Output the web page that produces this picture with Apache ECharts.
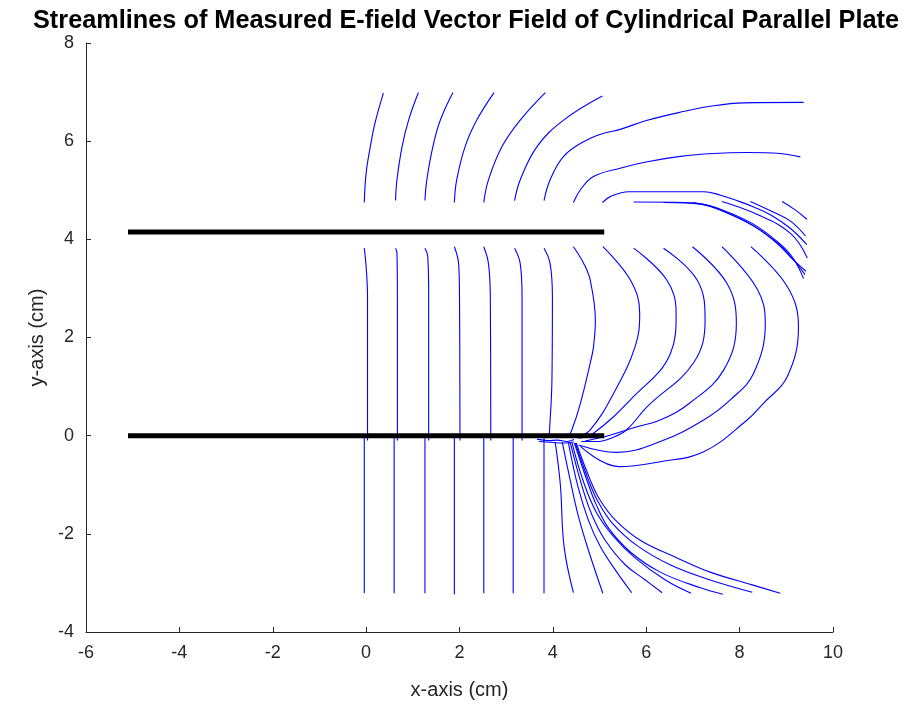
<!DOCTYPE html>
<html>
<head>
<meta charset="utf-8">
<script src="https://cdn.jsdelivr.net/npm/echarts@6/dist/echarts.min.js"></script>
<style>
  html, body { margin: 0; padding: 0; background: #ffffff; }
  #chart { width: 902px; height: 709px; }
</style>
</head>
<body>
<div id="chart"></div>
<script>
// Axis ticks
const xTicks = [-6, -4, -2, 0, 2, 4, 6, 8, 10];
const yTicks = [-4, -2, 0, 2, 4, 6, 8];

// The two plates (x, y in cm)
const topPlate = [[-5.1, 4.15], [5.1, 4.15]];
const bottomPlate = [[-5.1, 0], [5.1, 0]];

// Streamlines above the upper plate
const linesAbove = [
  [[-0.04, 4.75], [0, 5.35], [0.09, 5.89], [0.19, 6.37], [0.37, 6.98]],
  [[0.63, 4.79], [0.66, 5.21], [0.77, 5.89], [0.91, 6.43], [1.12, 6.99]],
  [[1.26, 4.79], [1.30, 5.21], [1.43, 5.89], [1.59, 6.43], [1.86, 6.99]],
  [[1.89, 4.75], [1.94, 5.21], [2.12, 5.89], [2.37, 6.43], [2.74, 6.99]],
  [[2.52, 4.75], [2.62, 5.21], [2.91, 5.89], [3.30, 6.43], [3.84, 6.99]],
  [[3.18, 4.79], [3.30, 5.21], [3.66, 5.89], [4.23, 6.43], [5.06, 6.92]],
  [[3.81, 4.79], [3.94, 5.21], [4.23, 5.69], [4.66, 5.99], [5.09, 6.16], [5.44, 6.24], [6.0, 6.42], [6.73, 6.59], [7.44, 6.72], [8.09, 6.78], [9.37, 6.79]],
  [[4.44, 4.75], [4.59, 5.01], [4.87, 5.28], [5.44, 5.45], [6.02, 5.58], [6.73, 5.69], [7.44, 5.75], [8.16, 5.77], [8.87, 5.75], [9.30, 5.68]],
  [[5.06, 4.75], [5.23, 4.87], [5.62, 4.97], [7.23, 4.97], [7.59, 4.90], [7.94, 4.79], [8.30, 4.66], [8.66, 4.50], [9.09, 4.22], [9.44, 3.89]],
  [[5.73, 4.76], [6.84, 4.75], [7.19, 4.72], [7.55, 4.63], [8.26, 4.33], [8.76, 3.99], [9.12, 3.65], [9.37, 3.20]],
  [[6.37, 4.75], [6.84, 4.74], [7.19, 4.71], [7.55, 4.61], [8.26, 4.30], [8.76, 3.96], [9.12, 3.62], [9.40, 3.28]],
  [[7.00, 4.75], [7.30, 4.70], [7.60, 4.60], [8.30, 4.27], [8.80, 3.92], [9.15, 3.58], [9.42, 3.35]],
  [[7.62, 4.77], [8.37, 4.51], [9.09, 4.12], [9.45, 3.62]],
  [[8.23, 4.77], [8.73, 4.55], [9.09, 4.37], [9.41, 4.07]],
  [[8.91, 4.77], [9.19, 4.60], [9.44, 4.41]]
];

// Streamlines between the plates
const linesBetween = [
  [[-0.04, 3.82], [0, 3.44], [0.03, 2.83], [0.03, -0.10]],
  [[0.63, 3.82], [0.66, 3.72], [0.67, 2.83], [0.67, -0.10]],
  [[1.26, 3.82], [1.32, 3.65], [1.34, 2.83], [1.34, -0.10]],
  [[1.89, 3.85], [1.98, 3.51], [2.00, 2.83], [2.01, -0.10]],
  [[2.52, 3.85], [2.62, 3.51], [2.66, 2.83], [2.67, -0.10]],
  [[3.18, 3.82], [3.30, 3.51], [3.34, 2.83], [3.34, -0.10]],
  [[3.81, 3.82], [3.94, 3.51], [3.99, 2.83], [3.98, 1.14], [3.93, 0.12], [3.92, 0.0]],
  [[4.44, 3.85], [4.66, 3.51], [4.80, 3.17], [4.91, 2.35], [4.87, 1.81], [4.80, 1.48], [4.59, 0.66], [4.40, 0.10], [4.33, 0.0]],
  [[5.07, 3.85], [5.66, 3.17], [5.86, 2.49], [5.76, 1.81], [5.30, 0.86], [4.80, 0.12], [4.50, -0.03]],
  [[5.73, 3.82], [6.44, 3.17], [6.64, 2.49], [6.52, 1.68], [5.66, 0.73], [4.87, 0.05], [4.55, -0.05]],
  [[6.37, 3.82], [7.09, 3.17], [7.26, 2.35], [7.01, 1.48], [6.02, 0.59], [5.58, 0.12], [5.30, -0.03], [4.94, -0.12], [4.61, -0.12]],
  [[6.99, 3.85], [7.73, 3.10], [7.93, 2.29], [7.66, 1.34], [6.94, 0.67], [6.30, 0.32], [5.80, 0.18], [5.22, 0.01], [4.69, -0.11]],
  [[7.62, 3.85], [8.37, 3.00], [8.55, 2.29], [8.30, 1.27], [7.80, 0.73], [7.23, 0.32], [6.30, -0.12], [5.37, -0.34], [4.55, -0.19]],
  [[8.24, 3.85], [9.02, 3.04], [9.26, 2.22], [9.02, 1.20], [8.51, 0.66], [8.16, 0.32], [7.23, -0.33], [6.30, -0.53], [5.41, -0.63], [4.59, -0.22]]
];

// Streamlines below the lower plate
const linesBelow = [
  [[-0.04, -0.05], [-0.04, -3.21]],
  [[0.60, -0.05], [0.60, -3.21]],
  [[1.26, -0.05], [1.26, -3.21]],
  [[1.89, -0.05], [1.89, -3.23]],
  [[2.52, -0.05], [2.52, -3.21]],
  [[3.15, -0.05], [3.15, -3.21]],
  [[3.81, -0.05], [3.81, -3.21]],
  [[4.05, -0.13], [4.16, -1.00], [4.24, -2.26], [4.44, -3.20]],
  [[4.20, -0.13], [4.37, -0.90], [4.54, -1.62], [4.76, -2.33], [5.07, -3.21]],
  [[4.33, -0.13], [4.54, -1.05], [4.76, -1.72], [5.01, -2.25], [5.34, -2.74], [5.69, -3.20]],
  [[4.37, -0.13], [4.63, -1.05], [4.84, -1.62], [5.12, -2.13], [5.55, -2.63], [5.98, -2.94], [6.34, -3.20]],
  [[4.41, -0.15], [4.67, -0.98], [4.93, -1.56], [5.27, -2.02], [5.76, -2.49], [6.41, -2.94], [6.96, -3.21]],
  [[4.46, -0.15], [4.74, -0.94], [4.93, -1.41], [5.19, -1.88], [5.66, -2.37], [6.30, -2.78], [7.16, -3.10], [7.64, -3.23]],
  [[4.48, -0.15], [4.76, -0.90], [4.97, -1.35], [5.27, -1.78], [5.79, -2.23], [6.51, -2.63], [7.37, -2.94], [8.27, -3.19]],
  [[4.50, -0.15], [4.80, -0.90], [5.01, -1.31], [5.34, -1.72], [5.87, -2.13], [6.66, -2.49], [7.37, -2.78], [8.27, -3.04], [8.87, -3.21]],
  [[3.66, -0.07], [3.90, -0.10], [4.10, -0.09], [4.30, -0.12], [4.45, -0.08]],
  [[3.70, -0.12], [4.00, -0.14], [4.25, -0.15], [4.45, -0.13]]
];

const axisColor = '#262626';
const fontFamily = '"Liberation Sans", Arial, Helvetica, sans-serif';

function streamSeries(pts) {
  return {
    type: 'line',
    data: pts,
    symbol: 'none',
    showSymbol: false,
    silent: true,
    clip: false,
    smooth: 0.4,
    lineStyle: { color: '#0000ff', width: 1.1 },
    z: 2
  };
}

function plateSeries(pts) {
  return {
    type: 'line',
    data: pts,
    symbol: 'none',
    showSymbol: false,
    silent: true,
    lineStyle: { color: '#000000', width: 5, cap: 'butt' },
    z: 3
  };
}

const series = []
  .concat(linesAbove.map(streamSeries))
  .concat(linesBetween.map(streamSeries))
  .concat(linesBelow.map(streamSeries))
  .concat([plateSeries(topPlate), plateSeries(bottomPlate)]);

const chart = echarts.init(document.getElementById('chart'), null, { renderer: 'canvas' });
chart.setOption({
  animation: false,
  backgroundColor: '#ffffff',
  title: {
    text: 'Streamlines of Measured E-field Vector Field of Cylindrical Parallel Plate',
    left: 28,
    top: 4,
    textStyle: { fontFamily: fontFamily, fontSize: 25.3, fontWeight: 'bold', color: '#000000' }
  },
  grid: { left: 86, right: 69, top: 43, bottom: 77, containLabel: false },
  xAxis: {
    type: 'value',
    min: xTicks[0],
    max: xTicks[xTicks.length - 1],
    interval: 2,
    name: 'x-axis (cm)',
    nameLocation: 'middle',
    nameGap: 48,
    nameTextStyle: { fontFamily: fontFamily, fontSize: 20, color: axisColor },
    axisLine: { onZero: false, lineStyle: { color: axisColor, width: 1 } },
    axisTick: { inside: true, length: 5, lineStyle: { color: axisColor } },
    axisLabel: { margin: 12, fontFamily: fontFamily, fontSize: 18, color: axisColor },
    splitLine: { show: false }
  },
  yAxis: {
    type: 'value',
    min: yTicks[0],
    max: yTicks[yTicks.length - 1],
    interval: 2,
    name: 'y-axis (cm)',
    nameLocation: 'middle',
    nameGap: 38,
    nameRotate: 90,
    nameTextStyle: { fontFamily: fontFamily, fontSize: 20, color: axisColor },
    axisLine: { onZero: false, lineStyle: { color: axisColor, width: 1 } },
    axisTick: { inside: true, length: 5, lineStyle: { color: axisColor } },
    axisLabel: { margin: 12, fontFamily: fontFamily, fontSize: 18, color: axisColor },
    splitLine: { show: false }
  },
  series: series
});
</script>
</body>
</html>
